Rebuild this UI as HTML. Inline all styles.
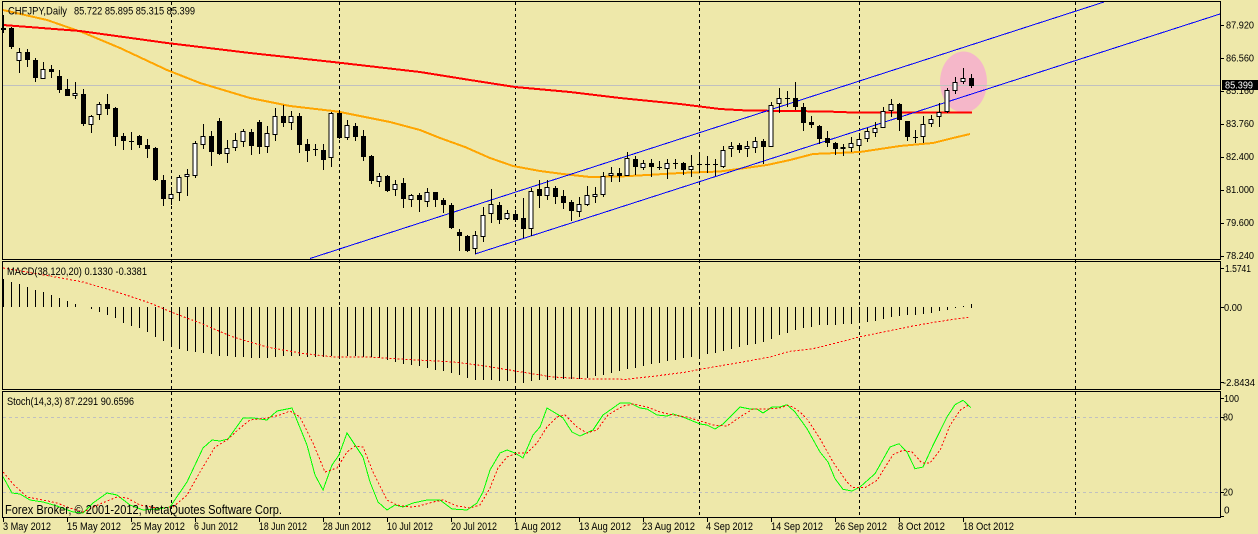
<!DOCTYPE html>
<html><head><meta charset="utf-8"><style>
html,body{margin:0;padding:0;background:#EEE8AA;}
svg{display:block;}
text{font-family:"Liberation Sans",Arial,sans-serif;fill:#000;}
</style></head><body>
<svg width="1258" height="534" viewBox="0 0 1258 534" xmlns="http://www.w3.org/2000/svg">
<rect x="0" y="0" width="1258" height="534" fill="#EEE8AA"/>
<!-- ellipse object -->
<ellipse cx="963.5" cy="82" rx="23.5" ry="30.5" fill="#F5B7C9"/>
<!-- current price line -->
<path d="M3 85.5H1220" stroke="#C0C0C0" stroke-width="1" shape-rendering="crispEdges"/>
<!-- stoch levels -->
<path d="M3 417.5H1220M3 492.5H1220" stroke="#C0C0C0" stroke-width="1" stroke-dasharray="3,3" shape-rendering="crispEdges"/>
<!-- period separators -->
<path d="M171.5 2V517M339.5 2V517M515.5 2V517M699.5 2V517M859.5 2V517M1075.5 2V517" stroke="#000" stroke-width="1" stroke-dasharray="3,3" shape-rendering="crispEdges"/>
<!-- moving averages -->
<polyline fill="none" stroke="#FFA500" stroke-width="2" shape-rendering="crispEdges" points="3,10 47,20 83,32.5 120,48 167,70 200,83 250,98 290,106 333,111 340,112 390,122 420,130 440,138 465,147 490,158 513,166 540,171 563,174 590,177 620,176.5 647,175 680,173 720,171.5 767,165 790,160 813,154 860,152 900,146 933,143 953,138 970,134"/>
<polyline fill="none" stroke="#FF0000" stroke-width="2" shape-rendering="crispEdges" points="3,25 80,31 167,43 250,53 333,62 420,72 470,80 515,87 570,92 620,98 680,104 720,109 747,110.5 827,111.5 853,112.5 972,112.5"/>
<!-- channel -->
<path d="M310 258.5L1104 2M475 254L1220 14" stroke="#0000FF" stroke-width="1" fill="none" shape-rendering="crispEdges"/>
<!-- candle wicks -->
<path stroke="#000" stroke-width="1" fill="none" shape-rendering="crispEdges" d="M3.5 15V33M11.5 27V49M19.5 48V73M27.5 49V67M35.5 58V82M43.5 62V79M51.5 65V78M59.5 70V93M67.5 79V96M75.5 82V99M83.5 89V126M91.5 115V133M99.5 102V120M107.5 94V115M115.5 107V146M123.5 133V150M131.5 132V150M139.5 135V148M147.5 139V158M155.5 147V181M163.5 175V206M171.5 187V205M179.5 175V201M187.5 169V196M195.5 141V178M203.5 124V149M211.5 131V166M219.5 118V155M227.5 140V163M235.5 133V151M243.5 129V147M251.5 129V155M259.5 120V154M267.5 126V153M275.5 108V141M283.5 105V127M291.5 111V130M299.5 113V153M307.5 139V162M315.5 144V156M323.5 144V170M331.5 112V167M339.5 110V139M347.5 120V140M355.5 123V141M363.5 130V161M371.5 155V184M379.5 173V187M387.5 175V192M395.5 180V196M403.5 178V208M411.5 194V207M419.5 193V212M427.5 188V207M435.5 192V207M443.5 198V213M451.5 203V229M459.5 229V251M467.5 235V252M475.5 231V254M483.5 207V242M491.5 189V223M499.5 202V224M507.5 210V220M515.5 210V222M523.5 198V238M531.5 188V236M539.5 180V208M547.5 180V200M555.5 186V204M563.5 190V209M571.5 200V221M579.5 197V217M587.5 186V206M595.5 187V203M603.5 172V197M611.5 167V182M619.5 168V182M627.5 152V176M635.5 156V175M643.5 160V170M651.5 159V177M659.5 161V170M667.5 159V179M675.5 159V169M683.5 162V175M691.5 155V177M699.5 155V173M707.5 156V173M715.5 159V176M723.5 146V168M731.5 142V157M739.5 143V153M747.5 141V157M755.5 137V153M763.5 139V164M771.5 102V147M779.5 88V113M787.5 91V107M795.5 82V110M803.5 103V131M811.5 116V128M819.5 125V144M827.5 131V147M835.5 142V155M843.5 144V156M851.5 137V152M859.5 133V151M867.5 128V142M875.5 122V137M883.5 107V128M891.5 99V117M899.5 103V131M907.5 121V141M915.5 130V143M923.5 116V143M931.5 115V127M939.5 103V127M947.5 88V113M955.5 77V94M963.5 68V84M971.5 74V88"/>
<!-- black bodies -->
<g fill="#000" shape-rendering="crispEdges">
<rect x="1" y="28" width="5" height="2"/><rect x="9" y="28" width="5" height="19"/><rect x="25" y="52" width="5" height="8"/><rect x="33" y="60" width="5" height="18"/><rect x="49" y="69" width="5" height="3"/><rect x="57" y="76" width="5" height="14"/><rect x="65" y="89" width="5" height="7"/><rect x="81" y="94" width="5" height="30"/><rect x="105" y="104" width="5" height="5"/><rect x="113" y="108" width="5" height="29"/><rect x="121" y="136" width="5" height="5"/><rect x="129" y="141" width="5" height="1"/><rect x="137" y="136" width="5" height="9"/><rect x="145" y="145" width="5" height="4"/><rect x="153" y="148" width="5" height="32"/><rect x="161" y="180" width="5" height="19"/><rect x="209" y="136" width="5" height="16"/><rect x="217" y="121" width="5" height="33"/><rect x="249" y="132" width="5" height="14"/><rect x="257" y="122" width="5" height="25"/><rect x="281" y="116" width="5" height="7"/><rect x="297" y="116" width="5" height="29"/><rect x="305" y="144" width="5" height="7"/><rect x="313" y="149" width="5" height="1"/><rect x="321" y="150" width="5" height="10"/><rect x="337" y="113" width="5" height="25"/><rect x="353" y="126" width="5" height="11"/><rect x="361" y="136" width="5" height="21"/><rect x="369" y="156" width="5" height="25"/><rect x="385" y="176" width="5" height="15"/><rect x="401" y="183" width="5" height="16"/><rect x="417" y="195" width="5" height="5"/><rect x="433" y="192" width="5" height="8"/><rect x="441" y="200" width="5" height="5"/><rect x="449" y="205" width="5" height="23"/><rect x="457" y="232" width="5" height="4"/><rect x="465" y="236" width="5" height="15"/><rect x="497" y="205" width="5" height="15"/><rect x="513" y="214" width="5" height="6"/><rect x="521" y="218" width="5" height="11"/><rect x="537" y="189" width="5" height="7"/><rect x="553" y="188" width="5" height="9"/><rect x="561" y="196" width="5" height="7"/><rect x="569" y="202" width="5" height="9"/><rect x="617" y="173" width="5" height="3"/><rect x="633" y="159" width="5" height="8"/><rect x="649" y="163" width="5" height="4"/><rect x="657" y="167" width="5" height="1"/><rect x="673" y="163" width="5" height="1"/><rect x="681" y="163" width="5" height="7"/><rect x="697" y="164" width="5" height="1"/><rect x="705" y="164" width="5" height="1"/><rect x="713" y="164" width="5" height="1"/><rect x="737" y="145" width="5" height="5"/><rect x="761" y="141" width="5" height="6"/><rect x="785" y="98" width="5" height="1"/><rect x="793" y="98" width="5" height="9"/><rect x="801" y="107" width="5" height="16"/><rect x="809" y="122" width="5" height="3"/><rect x="817" y="126" width="5" height="13"/><rect x="825" y="138" width="5" height="5"/><rect x="833" y="143" width="5" height="6"/><rect x="897" y="104" width="5" height="16"/><rect x="905" y="121" width="5" height="16"/><rect x="913" y="137" width="5" height="1"/><rect x="969" y="78" width="5" height="8"/>
</g>
<!-- white bodies -->
<g fill="#FFFFFF" stroke="#000" stroke-width="1" shape-rendering="crispEdges">
<rect x="17" y="52.5" width="4" height="8"/><rect x="41" y="69.5" width="4" height="9"/><rect x="73" y="93.5" width="4" height="2"/><rect x="89" y="116.5" width="4" height="8"/><rect x="97" y="104.5" width="4" height="10"/><rect x="169" y="194.5" width="4" height="4"/><rect x="177" y="177.5" width="4" height="15"/><rect x="185" y="174.5" width="4" height="2"/><rect x="193" y="143.5" width="4" height="32"/><rect x="201" y="136.5" width="4" height="8"/><rect x="225" y="148.5" width="4" height="5"/><rect x="233" y="140.5" width="4" height="7"/><rect x="241" y="131.5" width="4" height="10"/><rect x="265" y="133.5" width="4" height="13"/><rect x="273" y="116.5" width="4" height="18"/><rect x="289" y="116.5" width="4" height="6"/><rect x="329" y="113.5" width="4" height="44"/><rect x="345" y="125.5" width="4" height="12"/><rect x="377" y="176.5" width="4" height="5"/><rect x="393" y="184.5" width="4" height="5"/><rect x="409" y="195.5" width="4" height="4"/><rect x="425" y="192.5" width="4" height="9"/><rect x="473" y="235.5" width="4" height="13"/><rect x="481" y="215.5" width="4" height="21"/><rect x="489" y="204.5" width="4" height="9"/><rect x="505" y="213.5" width="4" height="5"/><rect x="529" y="191.5" width="4" height="37"/><rect x="545" y="187.5" width="4" height="8"/><rect x="577" y="204.5" width="4" height="7"/><rect x="585" y="195.5" width="4" height="9"/><rect x="593" y="194.5" width="4" height="2"/><rect x="601" y="176.5" width="4" height="18"/><rect x="609" y="173.5" width="4" height="2"/><rect x="625" y="158.5" width="4" height="17"/><rect x="641" y="163.5" width="4" height="4"/><rect x="665" y="163.5" width="4" height="5"/><rect x="689" y="166.5" width="4" height="3"/><rect x="721" y="150.5" width="4" height="16"/><rect x="729" y="146.5" width="4" height="2"/><rect x="745" y="146.5" width="4" height="2"/><rect x="753" y="141.5" width="4" height="6"/><rect x="769" y="105.5" width="4" height="41"/><rect x="777" y="98.5" width="4" height="5"/><rect x="841" y="147.5" width="4" height="1"/><rect x="849" y="143.5" width="4" height="4"/><rect x="857" y="139.5" width="4" height="6"/><rect x="865" y="131.5" width="4" height="7"/><rect x="873" y="128.5" width="4" height="4"/><rect x="881" y="111.5" width="4" height="16"/><rect x="889" y="104.5" width="4" height="6"/><rect x="921" y="124.5" width="4" height="12"/><rect x="929" y="119.5" width="4" height="4"/><rect x="937" y="112.5" width="4" height="4"/><rect x="945" y="90.5" width="4" height="21"/><rect x="953" y="82.5" width="4" height="8"/><rect x="961" y="78.5" width="4" height="3"/>
</g>
<!-- MACD histogram -->
<path stroke="#000" stroke-width="1" fill="none" shape-rendering="crispEdges" d="M3.5 307V279M11.5 307V282M19.5 307V284M27.5 307V287M35.5 307V290M43.5 307V292M51.5 307V295M59.5 307V298M67.5 307V301M75.5 307V304M91.5 307V309M99.5 307V312M107.5 307V315M115.5 307V318M123.5 307V323M131.5 307V326M139.5 307V328M147.5 307V332M155.5 307V337M163.5 307V341M171.5 307V346M179.5 307V349M187.5 307V351M195.5 307V352M203.5 307V353M211.5 307V354M219.5 307V356M227.5 307V356M235.5 307V357M243.5 307V357M251.5 307V358M259.5 307V358M267.5 307V358M275.5 307V357M283.5 307V356M291.5 307V356M299.5 307V356M307.5 307V357M315.5 307V357M323.5 307V357M331.5 307V356M339.5 307V356M347.5 307V356M355.5 307V356M363.5 307V357M371.5 307V357M379.5 307V358M387.5 307V360M395.5 307V362M403.5 307V364M411.5 307V365M419.5 307V366M427.5 307V368M435.5 307V370M443.5 307V371M451.5 307V373M459.5 307V375M467.5 307V378M475.5 307V380M483.5 307V380M491.5 307V380M499.5 307V381M507.5 307V381M515.5 307V382M523.5 307V383M531.5 307V381M539.5 307V380M547.5 307V380M555.5 307V380M563.5 307V379M571.5 307V379M579.5 307V379M587.5 307V378M595.5 307V376M603.5 307V375M611.5 307V373M619.5 307V371M627.5 307V369M635.5 307V368M643.5 307V366M651.5 307V364M659.5 307V363M667.5 307V361M675.5 307V360M683.5 307V358M691.5 307V357M699.5 307V356M707.5 307V354M715.5 307V353M723.5 307V351M731.5 307V349M739.5 307V347M747.5 307V345M755.5 307V344M763.5 307V342M771.5 307V339M779.5 307V335M787.5 307V333M795.5 307V330M803.5 307V328M811.5 307V327M819.5 307V325M827.5 307V325M835.5 307V325M843.5 307V324M851.5 307V324M859.5 307V323M867.5 307V322M875.5 307V321M883.5 307V319M891.5 307V317M899.5 307V316M907.5 307V315M915.5 307V315M923.5 307V314M931.5 307V313M939.5 307V311M947.5 307V310M955.5 307V308M963.5 307V306M971.5 308V304"/>
<!-- MACD signal -->
<polyline fill="none" stroke="#FF0000" stroke-width="1" stroke-dasharray="2,2" shape-rendering="crispEdges" points="3,268 50,276 83,282 117,292 150,303 171,312 200,323 233,337 267,347 300,353 333,357 367,357 400,359 423,360.3 453,362 487,366.3 517,371.3 553,377 587,379 627,379.3 653,376.3 687,372 700,369.3 737,363 770,357 790,351.3 813,348.7 847,340.3 859,337 880,332.7 913,326 940,321.3 970,317"/>
<!-- Stochastic -->
<polyline fill="none" stroke="#00FF00" stroke-width="1" shape-rendering="crispEdges" points="3,476.7 12,493 20,494 30,500 43,502 57,506 73,512 83,513 93,503 107,493 117,495 130,505 143,510 157,509 170,507 187,482 203,448 212,440 220,441 228,439 243,418 253,418 267,420 277,411 292,408 307,445 315,475 323,490 332,465 339,455 347,433 363,457 370,482 378,502 387,510 395,505 403,507 413,503 427,500 440,500 452,509 467,510 477,503 483,492 490,470 500,453 507,450 515,453 523,458 533,435 540,427 547,408 557,414 563,418 572,432 580,436 593,430 603,415 613,408 620,403 630,403 640,408 647,409 657,415 667,416 673,414 683,417 700,424 707,425 715,429 723,424 740,407 750,409 757,409 763,413 772,407 780,407 787,404.7 795,412 807,428.7 820,452 828,462 835,478.7 843,489.3 852,491 860,487 875,473.7 890,447 899,443.7 907,452 915,468.7 923,467 933,445.3 947,417 955,404.7 963,400.3 971,407.7"/>
<polyline fill="none" stroke="#FF0000" stroke-width="1" stroke-dasharray="2,2" shape-rendering="crispEdges" points="3,472 13,484 27,497 43,500 57,503 70,508 83,512 100,504 117,497 127,498 140,505 157,508 173,507 187,495 200,472 215,447 227,440 240,428 250,420 267,418 280,415 290,411 300,417 313,443 325,472 337,468 347,452 355,446 363,447 373,472 387,500 397,505 410,507 419,506 433,502 443,500 457,506 470,508 480,505 490,488 498,468 507,457 517,453 527,453 537,443 547,427 557,417 565,415 577,427 587,433 597,430 608,415 623,406 633,404 647,407 660,412 673,415 687,417 700,421 713,425 727,426 740,417 753,409 767,409 780,408 787,405.3 793,407 800,412 808,420.3 820,438.7 833,462 847,482 853,487.7 865,487.7 877,480.3 893,454.7 903,450.3 912,452 922,463 930,463 940,450.3 950,425.3 960,410.3 968,405.3"/>
<!-- panel borders -->
<g fill="none" stroke="#000" stroke-width="1" shape-rendering="crispEdges">
<rect x="2.5" y="1.5" width="1218" height="258"/>
<rect x="2.5" y="261.5" width="1218" height="128"/>
<rect x="2.5" y="391.5" width="1218" height="126"/>
</g>
<!-- axis ticks -->
<path stroke="#000" stroke-width="1" shape-rendering="crispEdges" d="M1221 25.5h3M1221 58.5h3M1221 91.5h3M1221 124.5h3M1221 157.5h3M1221 190.5h3M1221 223.5h3M1221 256.5h3M1221 268.5h3M1221 307.5h3M1221 382.5h3M1221 398.5h3M1221 417.5h3M1221 492.5h3M1221 516.5h3M3.5 518v4M67.5 518v4M131.5 518v4M195.5 518v4M259.5 518v4M323.5 518v4M387.5 518v4M451.5 518v4M515.5 518v4M579.5 518v4M643.5 518v4M707.5 518v4M771.5 518v4M835.5 518v4M899.5 518v4M963.5 518v4"/>
<!-- header texts -->
<text x="8" y="14.5" font-size="11" textLength="59" lengthAdjust="spacingAndGlyphs">CHFJPY,Daily</text>
<text x="74" y="14.5" font-size="11" textLength="121" lengthAdjust="spacingAndGlyphs">85.722 85.895 85.315 85.399</text>
<text x="7" y="275" font-size="11" textLength="140" lengthAdjust="spacingAndGlyphs">MACD(38,120,20) 0.1330 -0.3381</text>
<text x="7" y="405" font-size="11" textLength="127" lengthAdjust="spacingAndGlyphs">Stoch(14,3,3) 87.2291 90.6596</text>
<text x="5" y="514" font-size="12.5" textLength="277" lengthAdjust="spacingAndGlyphs">Forex Broker, © 2001-2012, MetaQuotes Software Corp.</text>
<!-- price axis labels -->
<g font-size="10">
<text x="1226" y="28.5" textLength="28" lengthAdjust="spacingAndGlyphs">87.920</text>
<text x="1226" y="61.5" textLength="28" lengthAdjust="spacingAndGlyphs">86.560</text>
<text x="1226" y="94" textLength="28" lengthAdjust="spacingAndGlyphs">85.160</text>
<text x="1226" y="127" textLength="28" lengthAdjust="spacingAndGlyphs">83.760</text>
<text x="1226" y="160" textLength="28" lengthAdjust="spacingAndGlyphs">82.400</text>
<text x="1226" y="193" textLength="28" lengthAdjust="spacingAndGlyphs">81.000</text>
<text x="1226" y="226" textLength="28" lengthAdjust="spacingAndGlyphs">79.600</text>
<text x="1226" y="259" textLength="28" lengthAdjust="spacingAndGlyphs">78.240</text>
<rect x="1222" y="80" width="36" height="10" fill="#000"/>
<text x="1225" y="88.5" textLength="28" lengthAdjust="spacingAndGlyphs" style="fill:#fff">85.399</text>
<text x="1225" y="272" textLength="26" lengthAdjust="spacingAndGlyphs">1.5741</text>
<text x="1224" y="311" textLength="18" lengthAdjust="spacingAndGlyphs">0.00</text>
<text x="1223" y="386" textLength="32" lengthAdjust="spacingAndGlyphs">-2.8434</text>
<text x="1224" y="402" textLength="15" lengthAdjust="spacingAndGlyphs">100</text>
<text x="1223" y="420.5" textLength="10" lengthAdjust="spacingAndGlyphs">80</text>
<text x="1223" y="495.5" textLength="10" lengthAdjust="spacingAndGlyphs">20</text>
<text x="1224" y="513.5">0</text>
</g>
<!-- date labels -->
<g font-size="11">
<text x="3" y="530" textLength="48" lengthAdjust="spacingAndGlyphs">3 May 2012</text>
<text x="67" y="530" textLength="54" lengthAdjust="spacingAndGlyphs">15 May 2012</text>
<text x="131" y="530" textLength="54" lengthAdjust="spacingAndGlyphs">25 May 2012</text>
<text x="194" y="530" textLength="44" lengthAdjust="spacingAndGlyphs">6 Jun 2012</text>
<text x="259" y="530" textLength="48" lengthAdjust="spacingAndGlyphs">18 Jun 2012</text>
<text x="323" y="530" textLength="48" lengthAdjust="spacingAndGlyphs">28 Jun 2012</text>
<text x="387" y="530" textLength="46" lengthAdjust="spacingAndGlyphs">10 Jul 2012</text>
<text x="451" y="530" textLength="46" lengthAdjust="spacingAndGlyphs">20 Jul 2012</text>
<text x="514" y="530" textLength="47" lengthAdjust="spacingAndGlyphs">1 Aug 2012</text>
<text x="579" y="530" textLength="52" lengthAdjust="spacingAndGlyphs">13 Aug 2012</text>
<text x="642" y="530" textLength="53" lengthAdjust="spacingAndGlyphs">23 Aug 2012</text>
<text x="706" y="530" textLength="47" lengthAdjust="spacingAndGlyphs">4 Sep 2012</text>
<text x="771" y="530" textLength="52" lengthAdjust="spacingAndGlyphs">14 Sep 2012</text>
<text x="835" y="530" textLength="52" lengthAdjust="spacingAndGlyphs">26 Sep 2012</text>
<text x="898" y="530" textLength="47" lengthAdjust="spacingAndGlyphs">8 Oct 2012</text>
<text x="963" y="530" textLength="51" lengthAdjust="spacingAndGlyphs">18 Oct 2012</text>
</g>
</svg>
</body></html>
